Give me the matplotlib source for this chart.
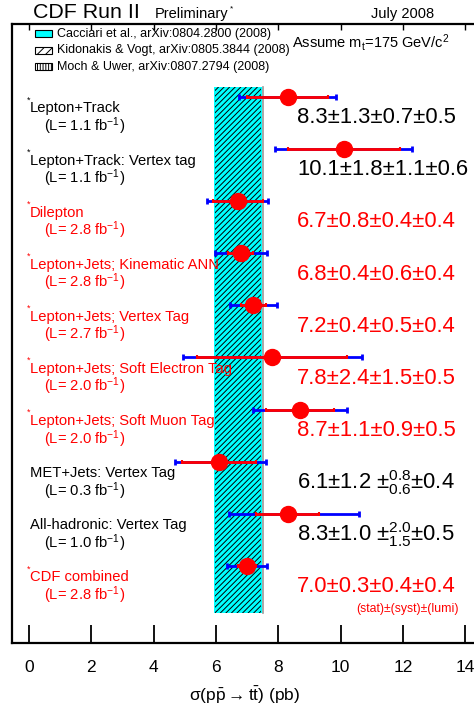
import matplotlib
matplotlib.use("Agg")
import matplotlib.pyplot as plt
from matplotlib.patches import Rectangle
import numpy as np

plt.rcParams['font.family'] = ['Liberation Sans', 'DejaVu Sans']
plt.rcParams['mathtext.fontset'] = 'custom'
plt.rcParams['mathtext.rm'] = 'Liberation Sans'
plt.rcParams['mathtext.it'] = 'Liberation Sans'
plt.rcParams['mathtext.bf'] = 'Liberation Sans:bold'
plt.rcParams['hatch.linewidth'] = 0.7

# ---- measurements ----
channels = ["Lepton+Track", "Lepton+Track: Vertex tag", "Dilepton",
            "Lepton+Jets; Kinematic ANN", "Lepton+Jets; Vertex Tag",
            "Lepton+Jets; Soft Electron Tag", "Lepton+Jets; Soft Muon Tag",
            "MET+Jets: Vertex Tag", "All-hadronic: Vertex Tag", "CDF combined"]
lumi_fb = [1.1, 1.1, 2.8, 2.8, 2.7, 2.0, 2.0, 0.3, 1.0, 2.8]
starred = [True, True, True, True, True, True, True, False, False, True]
channel_colors = ["black", "black", "red", "red", "red", "red", "red",
                  "black", "black", "red"]
xsec = [8.3, 10.1, 6.7, 6.8, 7.2, 7.8, 8.7, 6.1, 8.3, 7.0]
err_stat = [1.3, 1.8, 0.8, 0.4, 0.4, 2.4, 1.1, 1.2, 1.0, 0.3]
err_syst_up = [0.7, 1.1, 0.4, 0.6, 0.5, 1.5, 0.9, 0.8, 2.0, 0.4]
err_syst_dn = [0.7, 1.1, 0.4, 0.6, 0.5, 1.5, 0.9, 0.6, 1.5, 0.4]
err_lumi = [0.5, 0.6, 0.4, 0.4, 0.4, 0.5, 0.5, 0.4, 0.5, 0.4]

# ---- theory predictions (m_t = 175 GeV/c^2) ----
cacciari_band = (5.95, 7.47)
kidonakis_band = (5.97, 7.45)
moch_uwer_edge = 7.52

xticks = [0, 2, 4, 6, 8, 10, 12, 14]

W, H = 474, 709
fig = plt.figure(figsize=(W / 100, H / 100), dpi=100)


def fx(px):
    return px / W


def fy(py):
    return 1 - py / H


ax = fig.add_axes([fx(12), fy(643), (480.7 - 12) / W, (643 - 24) / H])
ax.set_xlim(-0.55, 14.5)
ax.set_ylim(10.48, -1.40)

rows = np.arange(len(channels))
xs = np.array(xsec)
st = np.array(err_stat)
tot_up = np.sqrt(st ** 2 + np.array(err_syst_up) ** 2 + np.array(err_lumi) ** 2)
tot_dn = np.sqrt(st ** 2 + np.array(err_syst_dn) ** 2 + np.array(err_lumi) ** 2)

# theory bands
band_top, band_bot = -0.19, 9.9
ax.fill_betweenx([band_top, band_bot], *cacciari_band, color="#00ffff", lw=0, zorder=1)
ax.add_patch(Rectangle((kidonakis_band[0], band_top), kidonakis_band[1] - kidonakis_band[0],
                       band_bot - band_top, fill=False, hatch="//////", edgecolor="black",
                       lw=0, zorder=2))
ax.plot([moch_uwer_edge, moch_uwer_edge], [band_top, band_bot], color="#999999", lw=1.2, zorder=2)

# error bars: blue = total, red = statistical
ax.errorbar(xs, rows, xerr=[tot_dn, tot_up], fmt="none", ecolor="blue", elinewidth=2,
            capsize=2, capthick=2, zorder=3)
ax.errorbar(xs, rows, xerr=st, fmt="none", ecolor="red", elinewidth=2,
            capsize=1.5, capthick=1.5, zorder=4)
ax.plot(xs, rows, "o", color="red", ms=11.5, mec="red", zorder=5)

# channel labels and results
for i, name in enumerate(channels):
    c = channel_colors[i]
    if starred[i]:
        ax.text(-0.08, rows[i] + 0.06, "*", color=c, fontsize=6.5, ha="left", va="center")
    ax.text(0.03, rows[i] + 0.22, name, color=c, fontsize=10.6, ha="left", va="center")
    ax.text(0.48, rows[i] + 0.56, r"(L= %.1f fb$^{-1}$)" % lumi_fb[i], color=c,
            fontsize=10.6, ha="left", va="center")
    if err_syst_up[i] == err_syst_dn[i]:
        s = "%.1f±%.1f±%.1f±%.1f" % (xsec[i], err_stat[i], err_syst_up[i], err_lumi[i])
    else:
        s = r"%.1f±%.1f $\pm^{%.1f}_{%.1f}$±%.1f" % (xsec[i], err_stat[i], err_syst_up[i],
                                                     err_syst_dn[i], err_lumi[i])
    ax.text(8.6, rows[i] + 0.4, s, color=c, fontsize=15.8, ha="left", va="center")

ax.text(13.78, 9.83, "(stat)±(syst)±(lumi)", color="red", fontsize=8.8, ha="right", va="center")

# axes styling
ax.set_yticks([])
ax.set_xticks(xticks)
ax.set_xticklabels([str(t) for t in xticks])
ax.tick_params(axis="x", direction="in", length=13, width=1.3, labelsize=12.5, pad=12)
for sp in ax.spines.values():
    sp.set_linewidth(1.6)
top = ax.secondary_xaxis("top")
top.set_xticks(xticks)
top.tick_params(direction="in", length=4, width=1.0, labeltop=False)
top.spines["top"].set_visible(False)

fig.text(fx(245), fy(701), r"$\sigma(\mathrm{p}\bar{\mathrm{p}}\rightarrow\mathrm{t}\bar{\mathrm{t}})$ (pb)",
         fontsize=12.5, ha="center", va="baseline")

# header
fig.text(fx(33), fy(18.3), "CDF Run II", fontsize=15.4, va="baseline")
fig.text(fx(155), fy(18.3), "Preliminary", fontsize=10.5, va="baseline")
fig.text(fx(230), fy(10), "*", fontsize=6, va="baseline")
fig.text(fx(371), fy(18.3), "July 2008", fontsize=10.5, va="baseline")

# theory legend
legend_items = [("Cacciari et al., arXiv:0804.2800 (2008)", dict(facecolor="#00ffff", hatch=None)),
                ("Kidonakis & Vogt, arXiv:0805.3844 (2008)", dict(facecolor="white", hatch="////")),
                ("Moch & Uwer, arXiv:0807.2794 (2008)", dict(facecolor="white", hatch="||||||"))]
for k, (txt, style) in enumerate(legend_items):
    yc = 33.7 + 16.5 * k
    fig.add_artist(Rectangle((fx(35), fy(yc + 3.3)), 17 / W, 6.6 / H, transform=fig.transFigure,
                             facecolor=style["facecolor"], hatch=style["hatch"],
                             edgecolor="black", lw=0.8))
    fig.text(fx(57), fy(yc), txt, fontsize=9.0, va="center")

fig.text(fx(292), fy(42), r"Assume m$_{\mathrm{t}}$=175 GeV/c$^{2}$", fontsize=10.5, va="center")

fig.savefig("out.png", dpi=100)
